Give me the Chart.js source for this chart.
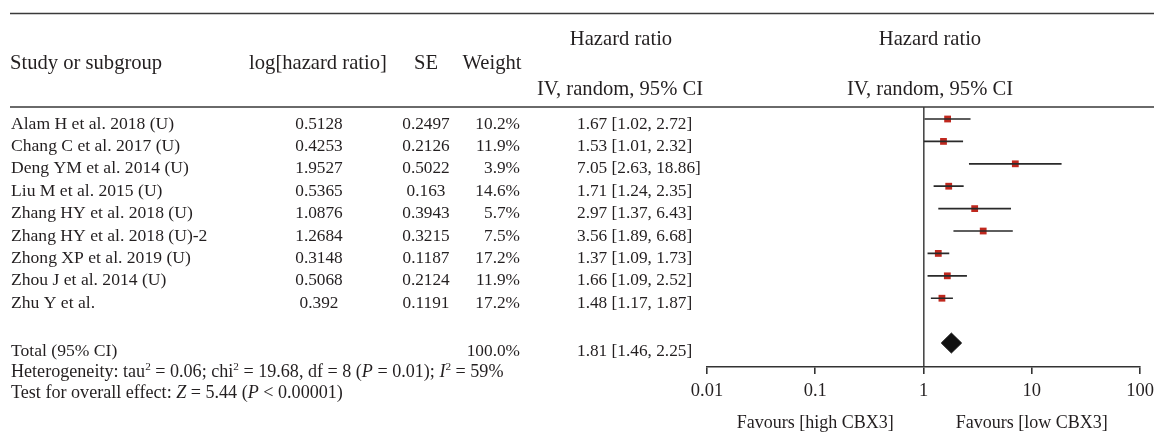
<!DOCTYPE html>
<html>
<head>
<meta charset="utf-8">
<script src="https://cdn.jsdelivr.net/npm/chart.js@4.4.1/dist/chart.umd.min.js"></script>
<style>
    html, body { margin: 0; padding: 0; background: #fff; }
    #wrap { width: 1154px; height: 434px; position: relative; }
</style>
</head>
<body>
<div id="wrap"><canvas id="forestChart"></canvas></div>
<script>
/* =========================================================
   DATOS
   ========================================================= */

const studies = [
    "Alam H et al. 2018 (U)",
    "Chang C et al. 2017 (U)",
    "Deng YM et al. 2014 (U)",
    "Liu M et al. 2015 (U)",
    "Zhang HY et al. 2018 (U)",
    "Zhang HY et al. 2018 (U)-2",
    "Zhong XP et al. 2019 (U)",
    "Zhou J et al. 2014 (U)",
    "Zhu Y et al."
];
const logHR = ["0.5128", "0.4253", "1.9527", "0.5365", "1.0876", "1.2684", "0.3148", "0.5068", "0.392"];
const seValues = ["0.2497", "0.2126", "0.5022", "0.163", "0.3943", "0.3215", "0.1187", "0.2124", "0.1191"];
const weights = ["10.2%", "11.9%", "3.9%", "14.6%", "5.7%", "7.5%", "17.2%", "11.9%", "17.2%"];
const hr = [1.67, 1.53, 7.05, 1.71, 2.97, 3.56, 1.37, 1.66, 1.48];
const ciLow = [1.02, 1.01, 2.63, 1.24, 1.37, 1.89, 1.09, 1.09, 1.17];
const ciHigh = [2.72, 2.32, 18.86, 2.35, 6.43, 6.68, 1.73, 2.52, 1.87];

const totalRow = 10;
const totalHR = 1.81;
const totalLow = 1.46;
const totalHigh = 2.25;
const totalWeight = "100.0%";

const xTicks = [0.01, 0.1, 1, 10, 100];
const favourLabels = ["Favours [high CBX3]", "Favours [low CBX3]"];

const FONT = '"Liberation Serif", "Times New Roman", serif';
const INK = "#231f20";

function fmtCI(v, lo, hi) {
    return `${v.toFixed(2)} [${lo.toFixed(2)}, ${hi.toFixed(2)}]`;
}

function text(ctx, str, x, y, align, size, style) {
    ctx.font = `${style || ""} ${size}px ${FONT}`;
    ctx.textAlign = align;
    ctx.textBaseline = "alphabetic";
    ctx.fillText(str, x, y);
}

// pieces: [texto, "i" | "sup" | ""]
function richText(ctx, pieces, x, y, size) {
    ctx.textAlign = "left";
    ctx.textBaseline = "alphabetic";
    let cx = x;
    pieces.forEach(([str, kind]) => {
        let s = size, dy = 0, st = "";
        if (kind === "sup") { s = size * 0.62; dy = -size * 0.38; }
        if (kind === "i") st = "italic";
        ctx.font = `${st} ${s}px ${FONT}`;
        ctx.fillText(str, cx, y + dy);
        cx += ctx.measureText(str).width;
    });
}

/* =========================================================
   TEXTO DE LA TABLA
   ========================================================= */

const tablePlugin = {
    id: "tableText",
    afterDraw(chart) {
        const ctx = chart.ctx;
        const yScale = chart.scales.y;
        const xScale = chart.scales.x;
        ctx.save();
        ctx.fillStyle = INK;

        // reglas horizontales
        ctx.strokeStyle = "#3a3a3a";
        ctx.lineWidth = 1.6;
        ctx.beginPath();
        ctx.moveTo(10, 13.5); ctx.lineTo(1154, 13.5);
        ctx.moveTo(10, chart.chartArea.top); ctx.lineTo(1154, chart.chartArea.top);
        ctx.stroke();

        // encabezados
        const hs = 20.6;
        text(ctx, "Study or subgroup", 10, 69, "left", hs);
        text(ctx, "log[hazard ratio]", 318, 69, "center", hs);
        text(ctx, "SE", 426, 69, "center", hs);
        text(ctx, "Weight", 492, 69, "center", hs);
        text(ctx, "Hazard ratio", 621, 45, "center", hs);
        text(ctx, "IV, random, 95% CI", 620, 95, "center", hs);
        text(ctx, "Hazard ratio", 930, 45, "center", hs);
        text(ctx, "IV, random, 95% CI", 930, 95, "center", hs);

        // filas
        studies.forEach((name, i) => {
            const y = yScale.getPixelForValue(i) + 9.5;
            text(ctx, name, 11, y, "left", 17.6);
            text(ctx, logHR[i], 319, y, "center", 17.3);
            text(ctx, seValues[i], 426, y, "center", 17.3);
            text(ctx, weights[i], 520, y, "right", 17.3);
            text(ctx, fmtCI(hr[i], ciLow[i], ciHigh[i]), 577, y, "left", 17.3);
        });

        // total y pie
        text(ctx, "Total (95% CI)", 11, 356, "left", 17.6);
        text(ctx, totalWeight, 520, 356, "right", 17.3);
        text(ctx, fmtCI(totalHR, totalLow, totalHigh), 577, 356, "left", 17.3);

        richText(ctx, [
            ["Heterogeneity: tau", ""], ["2", "sup"], [" = 0.06; chi", ""], ["2", "sup"],
            [" = 19.68, df = 8 (", ""], ["P", "i"], [" = 0.01); ", ""], ["I", "i"], ["2", "sup"],
            [" = 59%", ""]
        ], 11, 377, 18.1);
        richText(ctx, [
            ["Test for overall effect: ", ""], ["Z", "i"], [" = 5.44 (", ""], ["P", "i"],
            [" < 0.00001)", ""]
        ], 11, 398, 18.1);

        text(ctx, favourLabels[0], xScale.getPixelForValue(0.1), 428, "center", 18);
        text(ctx, favourLabels[1], xScale.getPixelForValue(10), 428, "center", 18);

        ctx.restore();
    }
};

/* =========================================================
   GRÁFICA
   ========================================================= */

const whiskerData = hr.flatMap((v, i) => [
    { x: ciLow[i], y: i },
    { x: ciHigh[i], y: i },
    { x: ciHigh[i], y: null }
]);

const diamondData = [
    { x: totalLow, y: totalRow },
    { x: totalHR, y: totalRow - 0.445 },
    { x: totalHigh, y: totalRow },
    { x: totalHR, y: totalRow + 0.445 },
    { x: totalLow, y: totalRow }
];

new Chart(document.getElementById("forestChart").getContext("2d"), {
    type: "scatter",
    data: {
        datasets: [
            {
                type: "line",
                data: whiskerData,
                borderColor: "#2a2a2a",
                borderWidth: 1.7,
                pointRadius: 0,
                spanGaps: false,
                fill: false
            },
            {
                type: "scatter",
                data: hr.map((v, i) => ({ x: v, y: i })),
                pointStyle: "rect",
                pointRadius: 4.8,
                backgroundColor: "#c0281e",
                borderWidth: 0
            },
            {
                type: "line",
                data: diamondData,
                borderColor: "#111",
                borderWidth: 1,
                backgroundColor: "#111",
                pointRadius: 0,
                tension: 0,
                fill: "shape"
            }
        ]
    },
    options: {
        responsive: true,
        maintainAspectRatio: false,
        animation: false,
        layout: {
            padding: { left: 707, right: 14, top: 107, bottom: 0 }
        },
        plugins: {
            legend: { display: false },
            tooltip: { enabled: false }
        },
        scales: {
            x: {
                type: "logarithmic",
                position: "bottom",
                min: 0.01,
                max: 100,
                afterBuildTicks(scale) {
                    scale.ticks = xTicks.map(value => ({ value }));
                },
                afterFit(scale) {
                    scale.height = 67;
                    scale.paddingLeft = 0;
                    scale.paddingRight = 0;
                },
                ticks: {
                    autoSkip: false,
                    maxRotation: 0,
                    padding: 6,
                    color: INK,
                    font: { family: FONT, size: 18.5 },
                    callback(value) {
                        return String(value);
                    }
                },
                grid: {
                    drawOnChartArea: true,
                    tickLength: 7,
                    lineWidth: 1.6,
                    color(ctx) {
                        return ctx.tick && ctx.tick.value === 1 ? "#4a4a4a" : "rgba(0,0,0,0)";
                    },
                    tickColor: "#333"
                },
                border: { display: true, color: "#333", width: 1.6 }
            },
            y: {
                type: "linear",
                reverse: true,
                min: -0.536,
                max: 11.07,
                display: false
            }
        }
    },
    plugins: [tablePlugin]
});
</script>
</body>
</html>
